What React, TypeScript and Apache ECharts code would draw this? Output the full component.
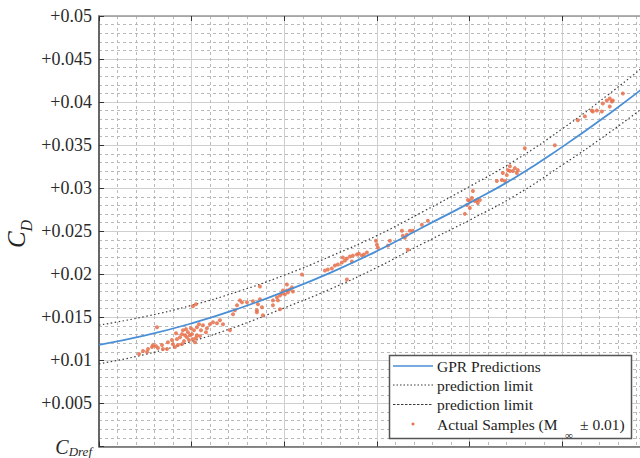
import React, { useEffect, useRef } from "react";
import * as echarts from "echarts";

// Curve sample positions (x in axis units; one major grid cell = 1)
const curveX = [0, 0.5, 1, 1.5, 2, 2.5, 3, 3.5, 4, 4.5, 5, 5.5, 6];
const gprPred = [0.0118, 0.0129, 0.0143, 0.016, 0.018, 0.0202, 0.0227, 0.0255, 0.0283, 0.0313, 0.0348, 0.0386, 0.0427];
const upperLimit = [0.0141, 0.0151, 0.0164, 0.018, 0.0199, 0.0221, 0.0245, 0.0273, 0.0302, 0.0333, 0.0369, 0.0409, 0.0452];
const lowerLimit = [0.0096, 0.0107, 0.0122, 0.014, 0.0161, 0.0183, 0.0208, 0.0236, 0.0263, 0.0292, 0.0327, 0.0364, 0.0404];

// Actual samples
const sampleX = [
  0.432, 0.475, 0.529, 0.572, 0.615, 0.636, 0.68, 0.734, 0.787, 0.798, 0.841, 0.852, 0.874, 0.895, 0.906, 0.928,
  0.939, 0.949, 0.96, 0.971, 0.992, 1.003, 1.014, 1.025, 1.036, 1.057, 1.057, 1.079, 1.1, 1.122, 1.165, 1.197,
  1.23, 1.273, 1.305, 1.338, 1.413, 0.626, 1.014, 1.046, 1.467, 1.489, 0.895, 0.82, 0.831, 0.917, 0.982, 1.046,
  0.744, 0.69, 0.518, 0.583, 1.154, 1.09, 1.543, 1.704, 1.769, 1.446, 1.877, 1.521, 1.597, 1.661, 1.715, 1.758,
  1.737, 1.704, 1.877, 1.92, 1.931, 1.953, 1.974, 1.985, 2.006, 2.028, 2.039, 2.06, 2.082, 2.093, 1.953, 2.028,
  2.19, 1.737, 2.438, 2.47, 2.513, 2.546, 2.578, 2.621, 2.654, 2.675, 2.708, 2.74, 2.783, 2.805, 2.837, 2.859,
  2.891, 2.632, 2.729, 2.675, 2.999, 3.01, 2.988, 3.139, 3.118, 3.269, 3.279, 3.301, 3.323, 3.355, 3.387, 3.484,
  3.549, 3.333, 3.948, 3.97, 3.981, 4.002, 4.024, 4.035, 4.056, 4.078, 4.088, 4.11, 4.002, 4.293, 4.347, 4.358,
  4.401, 4.412, 4.434, 4.466, 4.488, 4.509, 4.52, 4.434, 4.38, 4.595, 4.919, 5.167, 5.243, 5.318, 5.329, 5.372,
  5.426, 5.437, 5.48, 5.512, 5.534, 5.512, 5.545, 5.653,
];
const sampleY = [
  0.01074, 0.01109, 0.01132, 0.01155, 0.01166, 0.01143, 0.01178, 0.01132, 0.01236, 0.01189, 0.01247, 0.01178, 0.0127, 0.01305, 0.01351, 0.01293,
  0.01363, 0.0127, 0.01328, 0.01236, 0.01374, 0.01305, 0.01247, 0.01351, 0.01212, 0.01386, 0.01293, 0.0142, 0.01351, 0.01409, 0.01374, 0.0142,
  0.01443, 0.01432, 0.01467, 0.0142, 0.01351, 0.01386, 0.01628, 0.01651, 0.01582, 0.0164, 0.01189, 0.01155, 0.01316, 0.01224, 0.01293, 0.01259,
  0.01212, 0.01132, 0.01097, 0.01178, 0.01328, 0.01282, 0.01674, 0.01582, 0.01524, 0.01536, 0.01697, 0.01697, 0.01674, 0.01686, 0.01651, 0.01617,
  0.01709, 0.01559, 0.0164, 0.01732, 0.01697, 0.01755, 0.01778, 0.01813, 0.01767, 0.01813, 0.0179, 0.01824, 0.01848, 0.01801, 0.01594, 0.01882,
  0.01998, 0.01859, 0.02044, 0.02055, 0.02067, 0.02102, 0.02113, 0.02136, 0.02159, 0.02182, 0.02206, 0.02217, 0.02229, 0.0224, 0.02217, 0.02229,
  0.02252, 0.02194, 0.02148, 0.0194, 0.02344, 0.02309, 0.0239, 0.0239, 0.02333, 0.02506, 0.02448, 0.02425, 0.0246, 0.02506, 0.02506, 0.02575,
  0.02621, 0.02286, 0.02702, 0.02806, 0.02864, 0.02852, 0.02887, 0.02968, 0.02852, 0.02864, 0.02829, 0.02864, 0.02771, 0.03083, 0.03095, 0.03176,
  0.03152, 0.0321, 0.03199, 0.03199, 0.03233, 0.03176, 0.0321, 0.03256, 0.03083, 0.03464, 0.03499, 0.03788, 0.03834, 0.03903, 0.03891, 0.03903,
  0.03891, 0.03984, 0.04018, 0.04042, 0.04007, 0.03949, 0.04018, 0.04099,
];

const legendLabels = ["GPR Predictions", "prediction limit", "prediction limit", "Actual Samples (M", "∞", "± 0.01)"];

const SERIF = "'Liberation Serif', 'Times New Roman', serif";
const BLUE = "#4a8fd6";
const ORANGE = "#e8704a";
const DOT = "#3a3a3a";

export default function App() {
  const ref = useRef<HTMLDivElement>(null);

  useEffect(() => {
    if (!ref.current) return;
    const chart = echarts.init(ref.current, undefined, { renderer: "svg" });

    const pairs = (xs: number[], ys: number[]) => xs.map((x, i) => [x, ys[i]]);

    const gridCommon = {
      splitLine: { show: true, lineStyle: { color: "#cfcfcf", width: 1 } },
      minorSplitLine: { show: true, lineStyle: { color: "#b9b9b9", width: 1, type: [3, 3] } },
      minorTick: { show: false, splitNumber: 5 },
    };

    const legendX = 389.5;
    const legendY = 355.5;
    const rowY = [366, 385, 404.5, 424];
    const textX = 437;

    const option: any = {
      animation: false,
      grid: { left: 99, top: 16, width: 556, height: 435, containLabel: false },
      xAxis: [
        {
          type: "value",
          min: 0,
          max: 6,
          interval: 1,
          axisLine: { show: true, onZero: false, lineStyle: { color: "#666", width: 1.5 } },
          axisTick: { show: true, inside: true, length: 5, lineStyle: { color: "#333" } },
          axisLabel: { show: false },
          ...gridCommon,
        },
        {
          type: "value",
          position: "top",
          min: 0,
          max: 6,
          interval: 1,
          axisLine: { show: true, onZero: false, lineStyle: { color: "#999", width: 1.5 } },
          axisTick: { show: true, inside: true, length: 5, lineStyle: { color: "#333" } },
          axisLabel: { show: false },
          splitLine: { show: false },
        },
      ],
      yAxis: {
        type: "value",
        min: 0,
        max: 0.05,
        interval: 0.005,
        axisLine: { show: true, onZero: false, lineStyle: { color: "#666", width: 2 } },
        axisTick: { show: true, inside: true, length: 5, lineStyle: { color: "#333" } },
        axisLabel: {
          show: true,
          margin: 7,
          fontFamily: SERIF,
          fontSize: 18,
          color: "#2a2a2a",
          formatter: (v: number) => {
            if (Math.abs(v) < 1e-9) return "{c|C}{s|Dref}";
            return "+" + parseFloat(v.toFixed(3));
          },
          rich: {
            c: { fontFamily: SERIF, fontStyle: "italic", fontSize: 20, color: "#2a2a2a" },
            s: { fontFamily: SERIF, fontStyle: "italic", fontSize: 13, color: "#2a2a2a", padding: [10, 0, 0, 0] },
          },
        },
        ...gridCommon,
      },
      series: [
        {
          name: "prediction limit upper",
          type: "line",
          data: pairs(curveX, upperLimit),
          smooth: true,
          showSymbol: false,
          symbol: "none",
          lineStyle: { color: DOT, width: 1.2, type: [1.5, 2.5] },
          z: 3,
        },
        {
          name: "prediction limit lower",
          type: "line",
          data: pairs(curveX, lowerLimit),
          smooth: true,
          showSymbol: false,
          symbol: "none",
          lineStyle: { color: DOT, width: 1.2, type: [1.5, 2.5] },
          z: 3,
        },
        {
          name: "Actual Samples",
          type: "scatter",
          data: pairs(sampleX, sampleY),
          symbol: "circle",
          symbolSize: 4,
          itemStyle: { color: ORANGE, opacity: 0.85 },
          z: 4,
        },
        {
          name: "GPR Predictions",
          type: "line",
          data: pairs(curveX, gprPred),
          smooth: true,
          showSymbol: false,
          symbol: "none",
          lineStyle: { color: BLUE, width: 1.8 },
          z: 5,
        },
      ],
      graphic: [
        {
          type: "text",
          x: 16,
          y: 234,
          rotation: Math.PI / 2,
          style: {
            text: "{c|C}{d|D}",
            align: "center",
            verticalAlign: "middle",
            rich: {
              c: { fontFamily: SERIF, fontStyle: "italic", fontSize: 25, fill: "#222" },
              d: { fontFamily: SERIF, fontStyle: "italic", fontSize: 16, fill: "#222", padding: [20, 0, 0, 0] },
            },
          },
          z: 100,
        },
        {
          type: "group",
          z: 100,
          children: [
            {
              type: "rect",
              shape: { x: legendX, y: legendY, width: 242, height: 83 },
              style: { fill: "#fff", stroke: "#555", lineWidth: 1.5 },
              z: 100,
            },
            {
              type: "line",
              shape: { x1: 393, y1: rowY[0], x2: 433, y2: rowY[0] },
              style: { stroke: BLUE, lineWidth: 1.5 },
              z: 101,
            },
            {
              type: "line",
              shape: { x1: 393, y1: rowY[1], x2: 433, y2: rowY[1] },
              style: { stroke: DOT, lineWidth: 1.2, lineDash: [1.5, 2] },
              z: 101,
            },
            {
              type: "line",
              shape: { x1: 393, y1: rowY[2], x2: 433, y2: rowY[2] },
              style: { stroke: DOT, lineWidth: 1.2, lineDash: [2.5, 1.5] },
              z: 101,
            },
            {
              type: "circle",
              shape: { cx: 413, cy: rowY[3], r: 1.5 },
              style: { fill: ORANGE },
              z: 101,
            },
            ...[0, 1, 2].map((i) => ({
              type: "text",
              x: textX,
              y: rowY[i],
              style: {
                text: legendLabels[i],
                fontFamily: SERIF,
                fontSize: 15.5,
                fill: "#1e1e1e",
                verticalAlign: "middle",
                align: "left",
              },
              z: 101,
            })),
            {
              type: "text",
              x: textX,
              y: rowY[3],
              style: {
                text: legendLabels[3],
                fontFamily: SERIF,
                fontSize: 15.5,
                fill: "#1e1e1e",
                verticalAlign: "middle",
                align: "left",
              },
              z: 101,
            },
            {
              type: "text",
              x: 565,
              y: rowY[3] + 11,
              style: {
                text: legendLabels[4],
                fontFamily: SERIF,
                fontSize: 11,
                fill: "#1e1e1e",
                verticalAlign: "middle",
                align: "left",
              },
              z: 101,
            },
            {
              type: "text",
              x: 580,
              y: rowY[3],
              style: {
                text: legendLabels[5],
                fontFamily: SERIF,
                fontSize: 15.5,
                fill: "#1e1e1e",
                verticalAlign: "middle",
                align: "left",
              },
              z: 101,
            },
          ],
        },
      ],
    };

    chart.setOption(option);
    return () => chart.dispose();
  }, []);

  return (
    <div
      ref={ref}
      style={{ position: "fixed", left: 0, top: 0, width: 700, height: 458, background: "#fff" }}
    />
  );
}
